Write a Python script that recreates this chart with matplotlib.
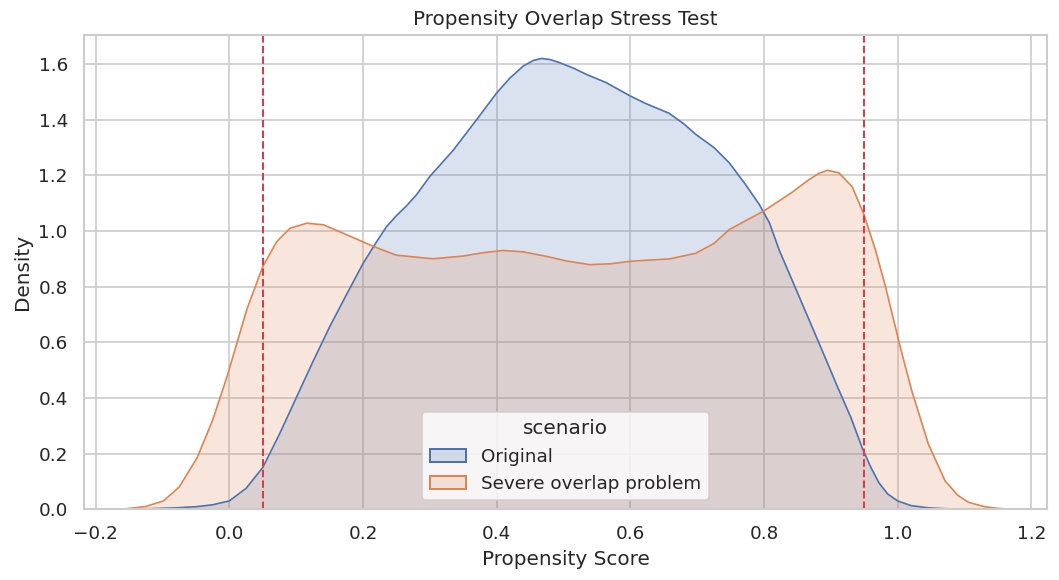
import matplotlib
matplotlib.use("Agg")
import matplotlib.pyplot as plt
from matplotlib.patches import Patch
import seaborn as sns

# density curves
orig_x = [-0.17, -0.12, -0.08, -0.05, -0.025, 0.0, 0.025, 0.05, 0.075, 0.10, 0.125, 0.15,
          0.175, 0.20, 0.22, 0.235, 0.25, 0.265, 0.28, 0.30, 0.335, 0.37, 0.40, 0.42,
          0.44, 0.455, 0.467, 0.48, 0.494, 0.515, 0.534, 0.564, 0.60, 0.623, 0.658,
          0.68, 0.698, 0.725, 0.748, 0.773, 0.793, 0.808, 0.823, 0.853, 0.885, 0.91,
          0.93, 0.947, 0.96, 0.972, 0.985, 1.00, 1.02, 1.046, 1.07, 1.10]
orig_y = [0.0, 0.002, 0.005, 0.009, 0.016, 0.03, 0.075, 0.15, 0.27, 0.40, 0.53, 0.655,
          0.77, 0.883, 0.96, 1.015, 1.055, 1.09, 1.13, 1.196, 1.29, 1.40, 1.496, 1.55,
          1.593, 1.613, 1.62, 1.616, 1.605, 1.585, 1.563, 1.533, 1.485, 1.458, 1.423,
          1.385, 1.347, 1.30, 1.245, 1.165, 1.095, 1.03, 0.93, 0.762, 0.582, 0.44,
          0.33, 0.22, 0.15, 0.095, 0.055, 0.03, 0.013, 0.005, 0.002, 0.0]

severe_x = [-0.17, -0.153, -0.125, -0.0985, -0.075, -0.048, -0.025, -0.0035, 0.026,
            0.05, 0.071, 0.091, 0.116, 0.141, 0.176, 0.216, 0.25, 0.305, 0.35, 0.38,
            0.41, 0.44, 0.474, 0.505, 0.539, 0.57, 0.60, 0.66, 0.698, 0.725, 0.748,
            0.775, 0.80, 0.842, 0.867, 0.882, 0.895, 0.912, 0.932, 0.949, 0.967, 0.982,
            1.004, 1.021, 1.046, 1.071, 1.09, 1.106, 1.13, 1.151, 1.17]
severe_y = [0.0, 0.002, 0.01, 0.03, 0.08, 0.186, 0.32, 0.476, 0.717,
            0.872, 0.962, 1.01, 1.028, 1.022, 0.986, 0.944, 0.913, 0.90, 0.91, 0.922,
            0.93, 0.925, 0.909, 0.892, 0.879, 0.882, 0.891, 0.90, 0.92, 0.955, 1.005,
            1.04, 1.072, 1.139, 1.184, 1.207, 1.218, 1.209, 1.159, 1.063, 0.93, 0.798,
            0.582, 0.427, 0.234, 0.102, 0.05, 0.025, 0.009, 0.003, 0.0]

labels = ["Original", "Severe overlap problem"]
cutoffs = [0.05, 0.95]

sns.set_theme(style="whitegrid")
colors = sns.color_palette("deep")[:2]

fig, ax = plt.subplots(figsize=(1059 / 120, 580 / 120), dpi=120)

handles = []
for xs, ys, c, lab in zip([orig_x, severe_x], [orig_y, severe_y], colors, labels):
    ax.fill_between(xs, ys, 0, color=c, alpha=0.2, linewidth=0)
    ax.plot(xs, ys, color=c, linewidth=1.0)
    handles.append(Patch(facecolor=(*c, 0.2), edgecolor=c, linewidth=1.2, label=lab))

for c in cutoffs:
    ax.axvline(c, color="#e0393e", linestyle="--", linewidth=1.2)

ax.set_xlim(-0.218, 1.224)
ax.set_ylim(0, 1.705)
ax.set_xlabel("Propensity Score")
ax.set_ylabel("Density")
ax.set_title("Propensity Overlap Stress Test")
ax.legend(handles=handles, title="scenario", loc="lower center")

fig.subplots_adjust(left=0.079, right=0.989, bottom=0.122, top=0.94)
fig.savefig("out.png")
